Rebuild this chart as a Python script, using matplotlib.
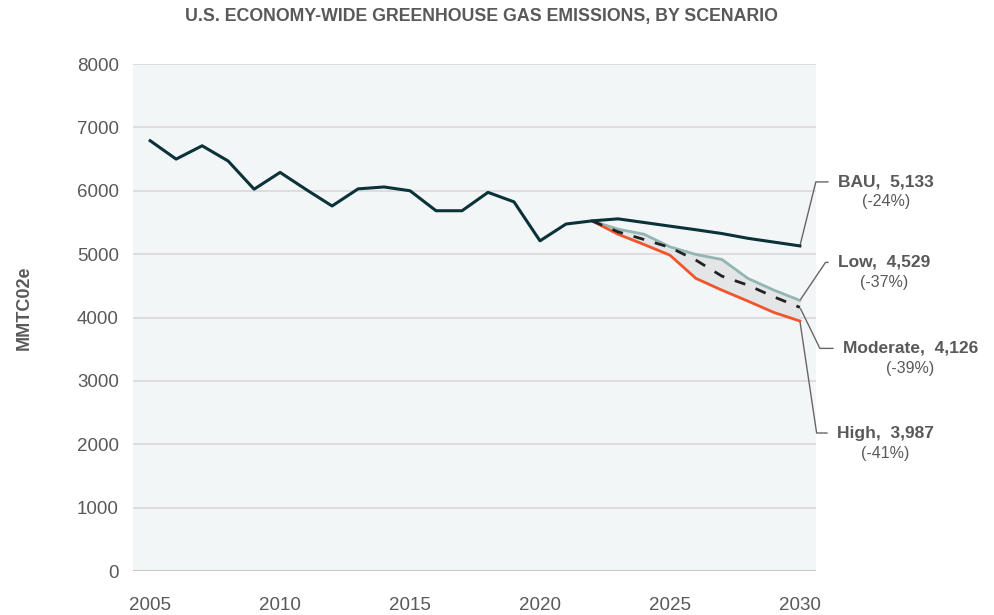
import matplotlib
matplotlib.use("Agg")
import matplotlib.pyplot as plt
from matplotlib.text import Text

# historical emissions (MMTCO2e)
hist_years = list(range(2005, 2023))
hist = [6790, 6500, 6710, 6470, 6025, 6290, 6020, 5760, 6030, 6060,
        6000, 5685, 5685, 5975, 5825, 5210, 5475, 5525]

# scenario projections from 2022
proj_years = list(range(2022, 2031))
bau = [5525, 5557, 5500, 5442, 5385, 5325, 5250, 5190, 5130]
low = [5525, 5394, 5315, 5115, 4995, 4916, 4617, 4432, 4270]
moderate = [5525, 5352, 5232, 5106, 4905, 4653, 4511, 4326, 4160]
high = [5525, 5315, 5153, 4984, 4617, 4432, 4259, 4080, 3945]

labels = ["BAU,  5,133", "Low,  4,529", "Moderate,  4,126", "High,  3,987"]
pcts = ["(-24%)", "(-37%)", "(-39%)", "(-41%)"]

C_BAU = "#0b3239"
C_LOW = "#93b5b3"
C_MOD = "#222222"
C_HIGH = "#f2542a"
C_FILL = "#e3e5e6"
C_TXT = "#595959"

plt.rcParams["font.family"] = ["Liberation Sans", "DejaVu Sans"]

fig = plt.figure(figsize=(9.95, 6.15), dpi=100)
ax = fig.add_axes([0.1334, 0.0715, 0.6867, 0.8244])
ax.set_facecolor("#f3f6f7")

ax.fill_between(proj_years, low, high, color=C_FILL, lw=0, zorder=2)
ax.plot(proj_years, low, color=C_LOW, lw=2.0, zorder=3)
ax.plot(proj_years, high, color=C_HIGH, lw=2.0, zorder=3)
ax.plot(proj_years, moderate, color=C_MOD, lw=2.0, ls=(0, (4, 4)), zorder=4)
ax.plot(hist_years + proj_years[1:], hist + bau[1:], color=C_BAU, lw=2.2, zorder=5)

ax.set_xlim(2004.33, 2030.62)
ax.set_ylim(0, 8000)
ax.set_xticks(range(2005, 2031, 5))
ax.set_yticks(range(0, 8001, 1000))
ax.grid(axis="y", color="#d9d9d9", lw=1.2, zorder=1)
ax.set_axisbelow(True)
for s in ["top", "right", "left", "bottom"]:
    ax.spines[s].set_visible(False)
ax.axhline(0, color="#c8c8c8", lw=1.5, zorder=1)
ax.tick_params(length=0, labelsize=13.5, labelcolor=C_TXT)
ax.tick_params(axis="x", pad=19)
ax.tick_params(axis="y", pad=10)

fig.text(0.484, 1 - 17 / 615, "U.S. ECONOMY-WIDE GREENHOUSE GAS EMISSIONS, BY SCENARIO",
         ha="center", va="center", fontsize=12.8, color=C_TXT, fontweight="bold")
fig.text(0.024, 1 - 308 / 615, "MMTC02e", rotation=90, ha="center", va="center",
         fontsize=13, fontweight="bold", color=C_TXT)

# end labels: (series, text offset in pixels, leader angle near the point)
ends = [(bau, (38, 64), 76), (low, (38, 38), 56),
        (moderate, (43, -41), -64), (high, (37, -112), -81.5)]
for (vals, off, ang), lab, pct in zip(ends, labels, pcts):
    t = ax.annotate(lab, xy=(proj_years[-1], vals[-1]), xytext=off,
                    textcoords="offset pixels", ha="left", va="center",
                    fontsize=12.5, fontweight="bold", color=C_TXT,
                    annotation_clip=False,
                    arrowprops=dict(arrowstyle="-", color="#666666", lw=1.0,
                                    relpos=(0, 0.5), shrinkA=5, shrinkB=1,
                                    connectionstyle=f"angle,angleA=0,angleB={ang},rad=0"))
    # anchor the percentage under the label text only (not its leader line)
    ax.annotate(pct, xy=(0.5, 0), xycoords=lambda r, t=t: Text.get_window_extent(t, r),
                xytext=(0, -5), textcoords="offset pixels", ha="center", va="top",
                fontsize=11.5, color=C_TXT, annotation_clip=False)

fig.savefig("out.png", dpi=100)
